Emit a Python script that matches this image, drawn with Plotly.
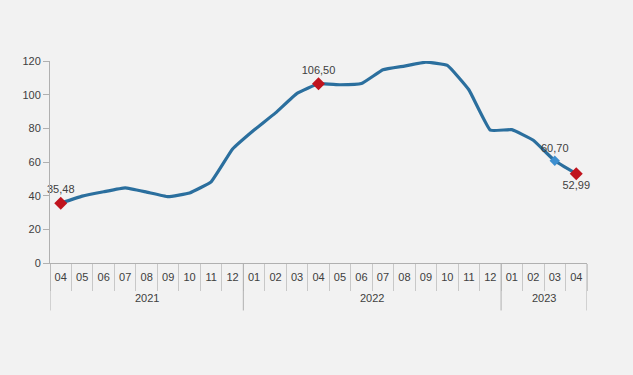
import plotly.graph_objects as go

years = ["2021", "2022", "2023"]
year_counts = [9, 12, 4]
months = ["04", "05", "06", "07", "08", "09", "10", "11", "12",
          "01", "02", "03", "04", "05", "06", "07", "08", "09", "10", "11", "12",
          "01", "02", "03", "04"]
values = [35.48, 39.7, 42.3, 44.6, 42.1, 39.4, 41.6, 48.2, 67.7, 79, 89.2, 100.8, 106.5,
          105.9, 106.6, 114.8, 117, 119.3, 117.4, 102.9, 78.9, 79.2, 72.9, 60.70, 52.99]

red_idx = [0, 12, 24]
blue_idx = [23]
label_pos = {0: "top center", 12: "top center", 23: "top center", 24: "bottom center"}

xs = list(range(len(months)))

def lab(v):
    return f"{v:.2f}".replace(".", ",")

fig = go.Figure()
fig.add_trace(go.Scatter(
    x=xs, y=values, mode="lines",
    line=dict(color="#2b6f9e", width=3.2, shape="spline", smoothing=0.3),
    hoverinfo="skip", showlegend=False, cliponaxis=False))
fig.add_trace(go.Scatter(
    x=[xs[i] for i in blue_idx], y=[values[i] for i in blue_idx], mode="markers+text",
    marker=dict(symbol="diamond", size=8, color="#3d8fd0"),
    text=[lab(values[i]) for i in blue_idx],
    textposition=[label_pos[i] for i in blue_idx],
    textfont=dict(size=11, color="#404040"), showlegend=False, cliponaxis=False))
fig.add_trace(go.Scatter(
    x=[xs[i] for i in red_idx], y=[values[i] for i in red_idx], mode="markers+text",
    marker=dict(symbol="diamond", size=10, color="#c0141e"),
    text=[lab(values[i]) for i in red_idx],
    textposition=[label_pos[i] for i in red_idx],
    textfont=dict(size=11, color="#404040"), showlegend=False, cliponaxis=False))

# year group boundaries
bounds = [-0.5]
for c in year_counts:
    bounds.append(bounds[-1] + c)
shapes = []
for b in bounds:
    shapes.append(dict(type="line", xref="x", yref="paper", x0=b, x1=b,
                       y0=0, y1=-0.235, line=dict(color="#b0b0b0", width=1)))
annotations = []
for i, y in enumerate(years):
    annotations.append(dict(x=(bounds[i] + bounds[i + 1]) / 2, y=0, xref="x", yref="paper",
                            text=y, showarrow=False, yshift=-35, yanchor="middle",
                            font=dict(size=11, color="#404040")))

fig.update_layout(
    width=633, height=375,
    margin=dict(l=50, r=46, t=61, b=112),
    paper_bgcolor="#f2f2f2", plot_bgcolor="#f2f2f2",
    font=dict(family="Liberation Sans, Arial, sans-serif", size=11, color="#404040"),
    xaxis=dict(range=[-0.5, len(months) - 0.5], tickvals=xs, ticktext=months,
               showline=True, linecolor="#b0b0b0", linewidth=1, ticks="",
               ticklabelstandoff=4,
               minor=dict(tickvals=[x - 0.5 for x in xs] + [len(months) - 0.5],
                          ticks="outside", ticklen=27, tickcolor="#c8c8c8"),
               showgrid=False, zeroline=False, tickangle=0,
               tickfont=dict(size=11, color="#404040")),
    yaxis=dict(range=[0, 120], dtick=20, showline=True, linecolor="#b0b0b0",
               ticks="outside", ticklen=6, tickcolor="#b0b0b0", showgrid=False,
               zeroline=False, tickfont=dict(size=11, color="#404040")),
    shapes=shapes, annotations=annotations,
)
fig.write_html("out.html")
